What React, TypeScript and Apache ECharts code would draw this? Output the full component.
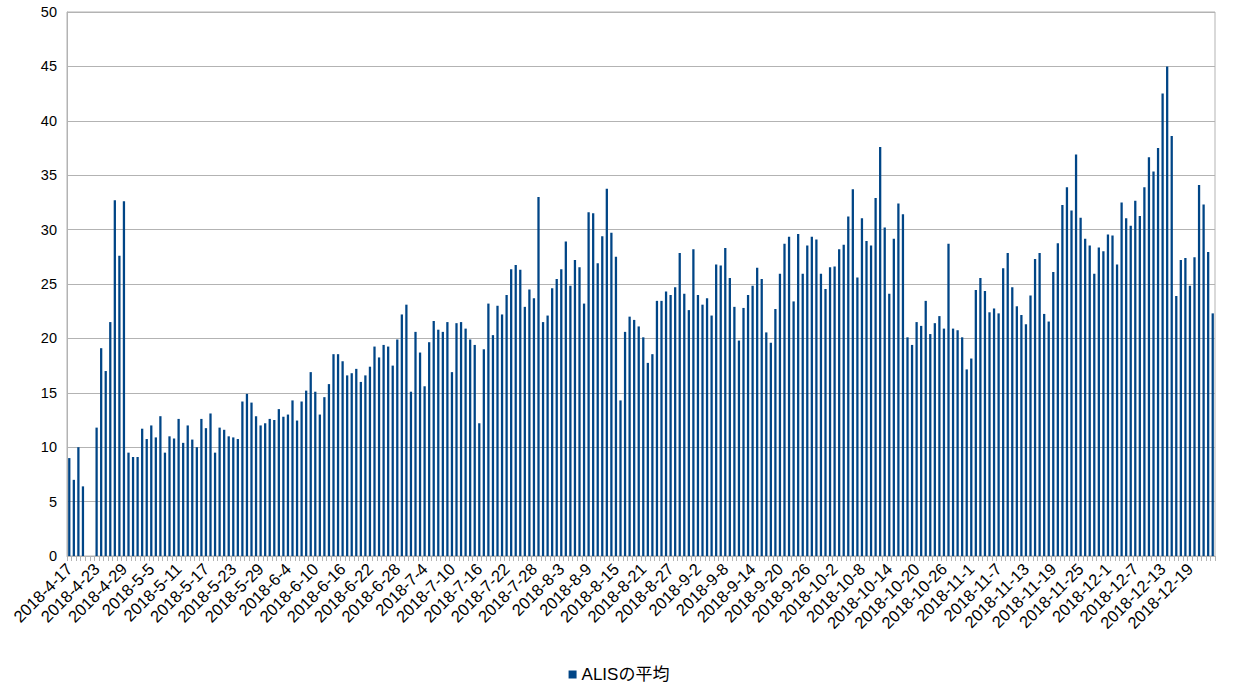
import React, { useEffect, useRef } from "react";
import * as echarts from "echarts";

const seriesName = "ALISの平均";
const yTicks = { min: 0, max: 50, interval: 5 };

// daily values, per month (2018)
const april = [9.0, 7.0, 10.0, 6.4, null, null, 11.8, 19.1, 17.0, 21.5, 32.7, 27.6, 32.6, 9.5]; // 4-17 .. 4-30
const may = [9.1, 9.1, 11.7, 10.75, 12.0, 10.9, 12.85, 9.5, 11.0, 10.8, 12.6, 10.4, 12.0, 10.7, 10.0, 12.6, 11.75, 13.1, 9.5, 11.8, 11.6, 11.0, 10.9, 10.75, 14.2, 14.9, 14.1, 12.85, 12.0, 12.2, 12.6];
const june = [12.5, 13.5, 12.8, 13.0, 14.3, 12.45, 14.2, 15.2, 16.9, 15.1, 13.0, 14.6, 15.8, 18.55, 18.55, 17.9, 16.6, 16.8, 17.2, 16.0, 16.6, 17.4, 19.25, 18.25, 19.4, 19.25, 17.5, 19.9, 22.2, 23.1];
const july = [15.1, 20.6, 18.7, 15.6, 19.65, 21.6, 20.8, 20.6, 21.5, 16.9, 21.4, 21.5, 20.9, 19.9, 19.4, 12.2, 19.0, 23.2, 20.3, 23.0, 22.2, 24.0, 26.35, 26.75, 26.3, 22.9, 24.5, 23.7, 33.0, 21.5, 22.1];
const august = [24.6, 25.45, 26.35, 28.9, 24.85, 27.2, 26.55, 23.2, 31.6, 31.5, 26.9, 29.4, 33.75, 29.7, 27.5, 14.3, 20.6, 22.0, 21.7, 21.1, 20.1, 17.75, 18.55, 23.45, 23.45, 24.3, 24.0, 24.7, 27.85, 24.1, 22.6];
const september = [28.2, 24.0, 23.1, 23.7, 22.1, 26.8, 26.7, 28.3, 25.55, 22.9, 19.8, 22.8, 24.0, 24.85, 26.5, 25.45, 20.55, 19.6, 22.7, 25.95, 28.7, 29.35, 23.4, 29.6, 25.95, 28.55, 29.35, 29.1, 25.95, 24.55];
const october = [26.55, 26.6, 28.2, 28.6, 31.2, 33.7, 25.6, 31.05, 28.95, 28.55, 32.9, 37.6, 30.2, 24.1, 29.15, 32.4, 31.4, 20.1, 19.4, 21.5, 21.15, 23.45, 20.4, 21.4, 22.05, 20.9, 28.7, 20.9, 20.75, 20.1, 17.15];
const november = [18.15, 24.45, 25.55, 24.35, 22.4, 22.75, 22.3, 26.45, 27.85, 24.7, 22.95, 22.15, 21.3, 23.95, 27.3, 27.85, 22.25, 21.55, 26.1, 28.75, 32.25, 33.9, 31.75, 36.9, 31.1, 29.15, 28.55, 25.95, 28.35, 28.0];
const december = [29.55, 29.45, 26.8, 32.5, 31.05, 30.35, 32.65, 31.25, 33.9, 36.65, 35.35, 37.5, 42.5, 45.0, 38.6, 23.9, 27.2, 27.4, 24.85, 27.45, 34.1, 32.3, 27.95, 22.3];

const months = [
  { m: 4, start: 17, vals: april },
  { m: 5, start: 1, vals: may },
  { m: 6, start: 1, vals: june },
  { m: 7, start: 1, vals: july },
  { m: 8, start: 1, vals: august },
  { m: 9, start: 1, vals: september },
  { m: 10, start: 1, vals: october },
  { m: 11, start: 1, vals: november },
  { m: 12, start: 1, vals: december },
];

const categories: string[] = [];
const values: (number | null)[] = [];
months.forEach(({ m, start, vals }) => {
  vals.forEach((v, i) => {
    categories.push(`2018-${m}-${start + i}`);
    values.push(v);
  });
});

export default function App() {
  const ref = useRef<HTMLDivElement>(null);
  useEffect(() => {
    if (!ref.current) return;
    const chart = echarts.init(ref.current, undefined, { renderer: "svg" });
    const font = "'Liberation Sans', 'Noto Sans CJK JP', sans-serif";
    chart.setOption({
      animation: false,
      backgroundColor: "#ffffff",
      textStyle: { fontFamily: font },
      grid: {
        left: 67,
        right: 23,
        top: 12,
        bottom: 137,
        show: true,
        borderColor: "#b3b3b3",
        borderWidth: 1,
      },
      legend: {
        bottom: 5,
        left: "center",
        icon: "rect",
        itemWidth: 8,
        itemHeight: 8,
        itemGap: 10,
        textStyle: { fontSize: 17, color: "#000", fontFamily: font },
        data: [seriesName],
      },
      xAxis: {
        type: "category",
        data: categories,
        boundaryGap: true,
        axisLine: { show: true, lineStyle: { color: "#b3b3b3" } },
        axisTick: {
          show: true,
          interval: 0,
          alignWithLabel: false,
          length: 5,
          lineStyle: { color: "#b3b3b3" },
        },
        axisLabel: {
          interval: 5,
          rotate: 45,
          fontSize: 16.5,
          color: "#000",
          margin: 10,
          fontFamily: font,
        },
        splitLine: { show: false },
      },
      yAxis: {
        type: "value",
        min: yTicks.min,
        max: yTicks.max,
        interval: yTicks.interval,
        axisLine: { show: true, lineStyle: { color: "#b3b3b3" } },
        axisTick: { show: false },
        axisLabel: { fontSize: 14.5, color: "#000", margin: 10, fontFamily: font },
        splitLine: { show: true, lineStyle: { color: "#b3b3b3", width: 1 } },
      },
      series: [
        {
          name: seriesName,
          type: "bar",
          data: values,
          barWidth: "50%",
          itemStyle: { color: "#004586" },
        },
      ],
    });
    return () => chart.dispose();
  }, []);
  return (
    <div
      ref={ref}
      style={{ position: "absolute", left: 0, top: 0, width: 1238, height: 693 }}
    />
  );
}
